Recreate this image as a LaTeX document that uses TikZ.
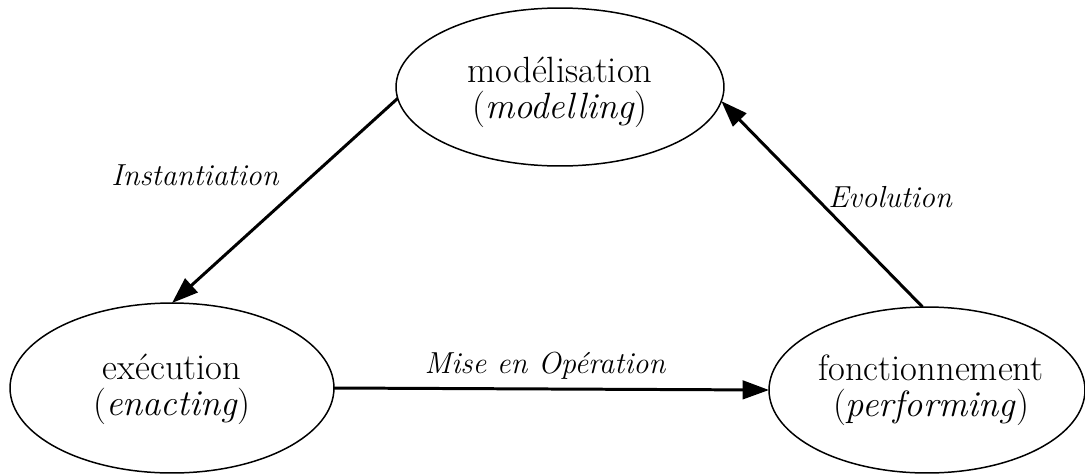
\documentclass[tikz,border=0pt]{standalone}
\usetikzlibrary{arrows.meta,shapes.geometric}
\begin{document}
\begin{tikzpicture}[x=0.02cm,y=-0.02cm,
  state/.style={draw,ellipse,line width=0.85pt,inner sep=0pt,outer sep=0pt},
  txt/.style={align=center,inner sep=0pt,font=\fontsize{20.8}{20.6}\selectfont},
  lbl/.style={font=\fontsize{17.3}{20}\selectfont\itshape,inner sep=0pt},
  flow/.style={line width=1.7pt,-{Triangle[length=15pt,width=10.5pt]}}]
\useasboundingbox (0,0) rectangle (1085,474);
\node[state,minimum width=6.56cm,minimum height=3.16cm] (mod) at (560,87) {};
\node[state,minimum width=6.48cm,minimum height=3.4cm] (exe) at (172,388) {};
\node[state,minimum width=6.32cm,minimum height=3.32cm] (fon) at (927,390) {};
\node[txt] (modt) at (560,92) {modélisation\\(\textit{modelling})};
\node[txt] (exet) at (172,389) {exécution\\(\textit{enacting})};
\node[txt] (font) at (931,390) {fonctionnement\\(\textit{performing})};
\draw[flow] (mod.184.2) -- (exe.90);
\draw[flow] (exe.0) -- (fon.180);
\draw[flow] (fon.93.4) -- (mod.-5.3);
\node[lbl] (l1) at (195,175) {Instantiation};
\node[lbl] (l2) at (545,366) {Mise en Opération};
\node[lbl] (l3) at (890,197) {Evolution};
\end{tikzpicture}
\end{document}
